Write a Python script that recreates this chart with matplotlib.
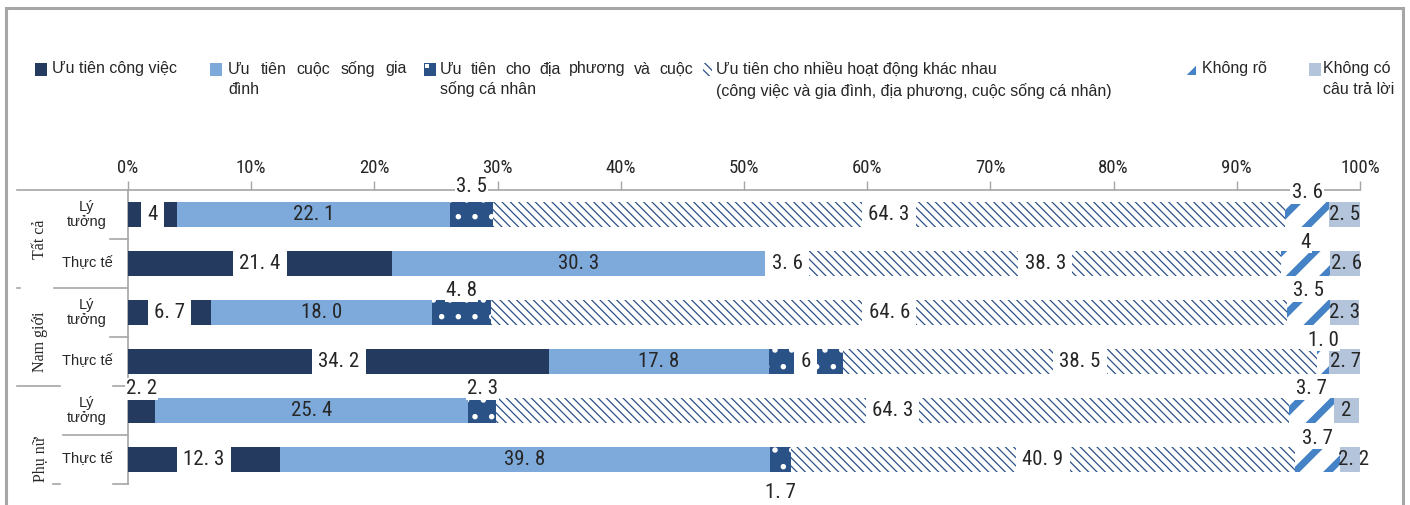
import matplotlib
matplotlib.use('Agg')
import matplotlib.pyplot as plt
from matplotlib.patches import Rectangle
from matplotlib.lines import Line2D
import matplotlib.transforms as mtransforms
import numpy as np

# ---------------- data ----------------
groups = ['Tất cả', 'Nam giới', 'Phụ nữ']
row_labels = ['Lý\ntưởng', 'Thực tế', 'Lý\ntưởng', 'Thực tế', 'Lý\ntưởng', 'Thực tế']
tick_labels = ['0%', '10%', '20%', '30%', '40%', '50%', '60%', '70%', '80%', '90%', '100%']

# values as shown in the chart (strings keep the displayed precision)
work = ['4', '21.4', '6.7', '34.2', '2.2', '12.3']
family = ['22.1', '30.3', '18.0', '17.8', '25.4', '39.8']
local = ['3.5', '3.6', '4.8', '6', '2.3', '1.7']
multi = ['64.3', '38.3', '64.6', '38.5', '64.3', '40.9']
unknown = ['3.6', '4', '3.5', '1.0', '3.7', '3.7']
no_answer = ['2.5', '2.6', '2.3', '2.7', '2', '2.2']

series_names = ['Ưu tiên công việc', 'Ưu tiên cuộc sống gia đình',
                'Ưu tiên cho địa phương và cuộc sống cá nhân',
                'Ưu tiên cho nhiều hoạt động khác nhau',
                'Không rõ', 'Không có câu trả lời']

# ---------------- style ----------------
W, H, DPI = 1410, 505, 100
C_WORK = '#243a5e'
C_FAM = '#7eaadb'
C_LOCAL = '#2a5287'
C_MULTI = '#2d5189'
C_UNK = '#4682c6'
C_NA = '#b4c4db'
C_TEXT = '#262626'
C_GRID = '#a6a6a6'

NUM_FONT = ['Liberation Sans Narrow', 'Roboto Condensed', 'Liberation Sans', 'DejaVu Sans']
SANS = ['Liberation Sans', 'DejaVu Sans']
SERIF = ['Liberation Serif', 'DejaVu Serif']

# label placement per series: w=center+white box, c=center, a=above, b=below
placement = {
    'work': ['w', 'w', 'w', 'w', 'a', 'w'],
    'family': ['c'] * 6,
    'local': ['a', 'w', 'a', 'w', 'a', 'b'],
    'multi': ['w'] * 6,
    'unknown': ['a'] * 6,
    'no_answer': ['c'] * 6,
}

series = [
    ('work', work, dict(color=C_WORK)),
    ('family', family, dict(color=C_FAM)),
    ('local', local, dict(facecolor=C_LOCAL, edgecolor='white', hatch='.')),
    ('multi', multi, dict(facecolor='white', edgecolor=C_MULTI, hatch='\\\\\\\\')),
    ('unknown', unknown, dict(facecolor='white', edgecolor=C_UNK, hatch='/')),
    ('no_answer', no_answer, dict(color=C_NA)),
]
hatch_lw = {'local': 1.5, 'multi': 0.9, 'unknown': 5.0}

fig = plt.figure(figsize=(W / DPI, H / DPI), dpi=DPI)
fig.patch.set_facecolor('white')

# overlay in pixel coords (legend, frame)
ov = fig.add_axes([0, 0, 1, 1], zorder=0)
ov.set_xlim(0, W)
ov.set_ylim(H, 0)
ov.axis('off')

ax_left, ax_right, ax_top, ax_bot = 128, 1360, 190, 484
ax = fig.add_axes([ax_left / W, 1 - ax_bot / H, (ax_right - ax_left) / W, (ax_bot - ax_top) / H], zorder=2)
ax.patch.set_alpha(0)

n = len(row_labels)
y = np.arange(n)
left = np.zeros(n)
bar_h = 0.53
pt_per_px = 72 / DPI

has_hlw = hasattr(matplotlib.patches.Patch, 'set_hatch_linewidth')
if not has_hlw:
    matplotlib.rcParams['hatch.linewidth'] = 1.0

above_dy = {('local', 0): 22}

for key, vals, kw in series:
    v = np.array(vals, dtype=float)
    bars = ax.barh(y, v, left=left, height=bar_h, linewidth=0, zorder=2, **kw)
    if key in hatch_lw and has_hlw:
        for b in bars:
            b.set_hatch_linewidth(hatch_lw[key])
    for i in range(n):
        txt = vals[i].replace('.', '. ')
        cx = left[i] + v[i] / 2
        p = placement[key][i]
        if p == 'w':
            ax.text(cx, y[i], txt, ha='center', va='center', fontsize=15, family=NUM_FONT,
                    color=C_TEXT, zorder=5,
                    bbox=dict(boxstyle='square,pad=0.3', facecolor='white', edgecolor='none'))
        elif p == 'c':
            ax.text(cx, y[i], txt, ha='center', va='center', fontsize=15, family=NUM_FONT,
                    color=C_TEXT, zorder=5)
        elif p == 'a':
            dy = above_dy.get((key, i), 16)
            ax.annotate(txt, (cx, y[i]), xytext=(0, dy * pt_per_px), textcoords='offset points',
                        ha='center', va='baseline', fontsize=15, family=NUM_FONT, color=C_TEXT,
                        zorder=5, annotation_clip=False,
                        bbox=dict(boxstyle='square,pad=0.05', facecolor='white', edgecolor='none'))
        elif p == 'b':
            ax.annotate(txt, (cx, y[i]), xytext=(0, -38 * pt_per_px), textcoords='offset points',
                        ha='center', va='baseline', fontsize=15, family=NUM_FONT, color=C_TEXT,
                        zorder=5, annotation_clip=False)
    left = left + v

if not has_hlw:
    matplotlib.rcParams['hatch.linewidth'] = 2.0

ax.set_xlim(0, 100)
ax.set_ylim(n - 0.5, -0.5)
ax.xaxis.tick_top()
ax.set_xticks(np.arange(0, 101, 10))
ax.set_xticklabels(tick_labels, fontsize=13.5, family=NUM_FONT, color=C_TEXT)
ax.tick_params(axis='x', direction='out', length=9 * pt_per_px, width=1, color=C_GRID, pad=3)
ax.set_yticks([])
for s in ['right', 'bottom']:
    ax.spines[s].set_visible(False)
for s in ['top', 'left']:
    ax.spines[s].set_color(C_GRID)
    ax.spines[s].set_linewidth(1.2)
    ax.spines[s].set_zorder(1)

# left area: row labels, group labels, separators
bt = mtransforms.blended_transform_factory(ov.transData, ax.transData)
for i, lab in enumerate(row_labels):
    fig.add_artist(matplotlib.text.Text(87, y[i], lab, ha='center', va='center', fontsize=10.5,
                                        family=SANS, color=C_TEXT, linespacing=1.05,
                                        transform=bt))
group_pos = [0.5, 2.6, 5.0]
for g, gy in zip(groups, group_pos):
    fig.add_artist(matplotlib.text.Text(40, gy, g, ha='center', va='center', fontsize=11.5,
                                        family=SERIF, color=C_TEXT, rotation=90, transform=bt))

seps = [
    (-0.5, [(17, 128)]),
    (0.5, [(110, 128)]),
    (1.5, [(17, 20), (54, 128)]),
    (2.5, [(110, 128)]),
    (3.5, [(17, 60), (113, 128)]),
    (4.5, [(63, 128)]),
    (5.5, [(53, 60), (113, 128)]),
]
for sy, segs in seps:
    for x0, x1 in segs:
        fig.add_artist(Line2D([x0, x1], [sy, sy], color=C_GRID, lw=1.2, transform=bt))

# outer frame (left, top, right)
ov.plot([6, 6, 1403, 1403], [H, 8, 8, H], color=C_GRID, lw=2.2, solid_joinstyle='miter')

# ---------------- legend ----------------
LEG_FS = 11.5
fig.canvas.draw()
renderer = fig.canvas.get_renderer()


def put(x, yy, s):
    return ov.text(x, yy, s, ha='left', va='center', fontsize=LEG_FS, family=SANS, color=C_TEXT)


def justify(words, x0, x1, yy):
    ts = [put(x0, yy, w) for w in words]
    widths = [t.get_window_extent(renderer).width for t in ts]
    gap = (x1 - x0 - sum(widths)) / (len(words) - 1)
    x = x0
    for t, wd in zip(ts, widths):
        t.set_x(x)
        x += wd + gap


def icon(x, yy, w, h, **kw):
    r = Rectangle((x, yy), w, h, linewidth=0, **kw)
    ov.add_patch(r)
    return r


L1, L2 = 69, 89
icon(35, 63, 12, 13, color=C_WORK)
put(52, L1, series_names[0])

icon(210, 63, 12, 13, color=C_FAM)
justify(['Ưu', 'tiên', 'cuộc', 'sống', 'gia'], 228, 407, L1)
put(228, L2, 'đình')

icon(424, 63, 12, 13, color=C_LOCAL)
icon(425, 64, 3.5, 3.5, color='white')
justify(['Ưu', 'tiên', 'cho', 'địa', 'phương', 'và', 'cuộc'], 440, 693, L1)
put(440, L2, 'sống cá nhân')

r = icon(703, 63, 9, 13, facecolor='white', edgecolor=C_MULTI, hatch='\\\\\\\\')
if has_hlw:
    r.set_hatch_linewidth(0.9)
put(716, L1, 'Ưu tiên cho nhiều hoạt động khác nhau')
put(716, 91, '(công việc và gia đình, địa phương, cuộc sống cá nhân)')

r = icon(1187, 64, 9, 11, facecolor='white', edgecolor=C_UNK, hatch='/')
if has_hlw:
    r.set_hatch_linewidth(5.0)
put(1202, L1, 'Không rõ')

icon(1309, 63, 12, 13, color=C_NA)
put(1323, L1, 'Không có')
put(1323, L2, 'câu trả lời')

fig.savefig('out.png', dpi=DPI, facecolor='white')
